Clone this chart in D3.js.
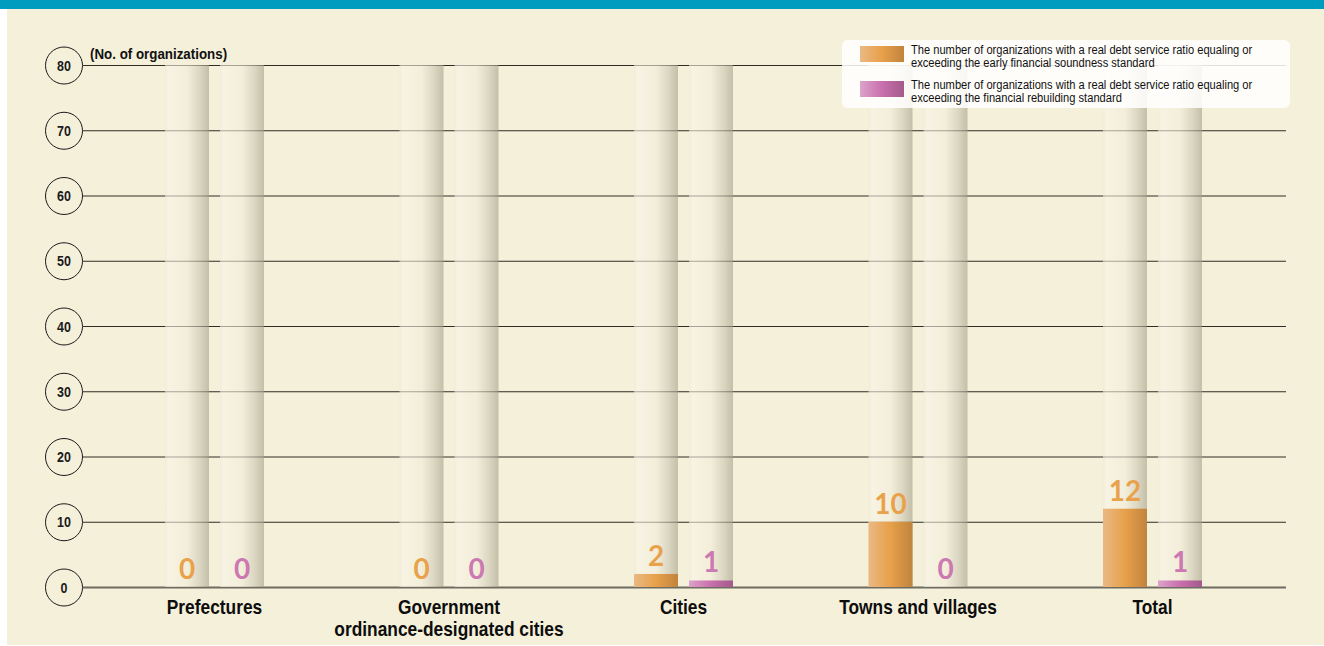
<!DOCTYPE html>
<html>
<head>
<meta charset="utf-8">
<script src="https://cdn.jsdelivr.net/npm/d3@7"></script>
<style>
  html, body { margin: 0; padding: 0; background: #ffffff; }
  svg { display: block; }
  .narrow { font-family: "Liberation Sans Narrow", "Liberation Sans", Arial, sans-serif; }
</style>
</head>
<body>
<svg id="chart" width="1324" height="646"></svg>
<script>
// Data
const categories = ["Prefectures", "Government\nordinance-designated cities", "Cities", "Towns and villages", "Total"];
const seriesKeys = ["early", "rebuilding"];
const earlySoundness = [0, 0, 2, 10, 12];
const financialRebuilding = [0, 0, 1, 0, 1];
const yTicks = [0, 10, 20, 30, 40, 50, 60, 70, 80];
const legendLabels = [
  ["The number of organizations with a real debt service ratio equaling or", "exceeding the early financial soundness standard"],
  ["The number of organizations with a real debt service ratio equaling or", "exceeding the financial rebuilding standard"]
];
const unitLabel = "(No. of organizations)";

const rows = categories.map((c, i) => ({ cat: c, early: earlySoundness[i], rebuilding: financialRebuilding[i] }));

const W = 1324, H = 646;
const SX = 0.89; // horizontal squeeze for condensed lettering
const svg = d3.select("#chart");

// Page background and top band
svg.append("rect").attr("x", 7).attr("y", 0).attr("width", W - 7).attr("height", H - 1).attr("fill", "#f5f0da");
svg.append("rect").attr("x", 0).attr("y", 0).attr("width", W).attr("height", 9).attr("fill", "#009cbf");

const defs = svg.append("defs");
function hGrad(id, stops) {
  const g = defs.append("linearGradient").attr("id", id).attr("x1", "0").attr("x2", "1").attr("y1", "0").attr("y2", "0");
  stops.forEach(([o, c]) => g.append("stop").attr("offset", o).attr("stop-color", c));
}
// Columns are translucent so the gridlines show faintly through them
hGrad("colGrad", [["0", "#efeada"], ["0.08", "#f9f5e8"], ["0.5", "#f2edda"], ["0.78", "#cbc6b2"], ["1", "#a39e87"]]);
hGrad("orangeGrad", [["0", "#eab984"], ["0.5", "#e8a04a"], ["1", "#c0843e"]]);
hGrad("pinkGrad", [["0", "#dca3c9"], ["0.5", "#c96fae"], ["1", "#a35a8a"]]);

const seriesFill = { early: "url(#orangeGrad)", rebuilding: "url(#pinkGrad)" };
const labelColor = { early: "#e9a24c", rebuilding: "#cc78b2" };

// Scales
const y = d3.scaleLinear().domain([0, 80]).range([587, 65]);
const x0 = d3.scaleBand().domain(categories).range([97.25, 1269.75]).padding(0);
const inner = 99;
const x1 = d3.scaleBand().domain(seriesKeys)
  .range([x0.bandwidth() / 2 - inner / 2, x0.bandwidth() / 2 + inner / 2])
  .paddingInner(0.2).paddingOuter(0);

// Gridlines
const grid = svg.append("g");
grid.selectAll("line").data(yTicks).join("line")
  .attr("x1", 83).attr("x2", 1286)
  .attr("y1", d => y(d) + 0.5).attr("y2", d => y(d) + 0.5)
  .attr("stroke", d => d === 0 ? "#6e6b60" : "#2e2c26")
  .attr("stroke-width", d => d === 0 ? 2 : 1);

// Background columns
const groups = svg.append("g").selectAll("g").data(rows).join("g")
  .attr("transform", d => `translate(${x0(d.cat)},0)`);

groups.selectAll("rect.col").data(d => seriesKeys.map(k => ({ key: k, value: d[k] })))
  .join("rect").attr("class", "col")
  .attr("x", d => x1(d.key)).attr("width", x1.bandwidth())
  .attr("y", y(80)).attr("height", y(0) - y(80))
  .attr("fill", "url(#colGrad)").attr("fill-opacity", 0.6);

// Bars
groups.selectAll("rect.bar").data(d => seriesKeys.map(k => ({ key: k, value: d[k] })))
  .join("rect").attr("class", "bar")
  .attr("x", d => x1(d.key)).attr("width", x1.bandwidth())
  .attr("y", d => y(d.value)).attr("height", d => y(0) - y(d.value))
  .attr("fill", d => seriesFill[d.key]);

// Value labels
groups.selectAll("text.val").data(d => seriesKeys.map(k => ({ key: k, value: d[k] })))
  .join("text").attr("class", "val")
  .attr("x", d => x1(d.key) + x1.bandwidth() / 2)
  .attr("y", d => y(d.value) - 8)
  .attr("text-anchor", "middle")
  .attr("font-family", "Lato, 'Noto Sans', sans-serif")
  .attr("font-weight", 700)
  .attr("font-size", 28)
  .attr("fill", d => labelColor[d.key])
  .text(d => d.value);

// Y axis circles
const yAxis = svg.append("g");
const tickG = yAxis.selectAll("g").data(yTicks).join("g")
  .attr("transform", d => `translate(64,${y(d) + 0.5})`);
tickG.append("circle").attr("r", 18.5).attr("fill", "#f5f0da").attr("stroke", "#1a1a1a").attr("stroke-width", 1);
tickG.append("text").attr("class", "narrow").attr("text-anchor", "middle").attr("dy", "0.36em")
  .attr("transform", `scale(${SX},1)`)
  .attr("font-size", 14).attr("font-weight", 700).attr("fill", "#1a1a1a")
  .text(d => d);

svg.append("text").attr("class", "narrow")
  .attr("transform", `translate(90,59) scale(${SX},1)`)
  .attr("font-size", 15).attr("font-weight", 700).attr("fill", "#111")
  .text(unitLabel);

// Category labels
const catLab = svg.append("g").selectAll("text").data(categories).join("text")
  .attr("class", "narrow")
  .attr("transform", d => `translate(${x0(d) + x0.bandwidth() / 2},614) scale(${SX},1)`)
  .attr("text-anchor", "middle")
  .attr("font-size", 19.5).attr("font-weight", 700).attr("fill", "#0d0d0d");
catLab.selectAll("tspan").data(d => d.split("\n")).join("tspan")
  .attr("x", 0)
  .attr("dy", (d, i) => i === 0 ? 0 : 22)
  .text(d => d);

// Legend
const lg = svg.append("g");
lg.append("rect").attr("x", 842).attr("y", 40).attr("width", 448).attr("height", 68).attr("rx", 6)
  .attr("fill", "#ffffff").attr("fill-opacity", 0.86);
seriesKeys.forEach((k, i) => {
  const top = 46 + i * 35;
  lg.append("rect").attr("x", 860).attr("y", top).attr("width", 44).attr("height", 16).attr("fill", seriesFill[k]);
  const t = lg.append("text").attr("class", "narrow")
    .attr("transform", `translate(911,${top + 8}) scale(${SX},1)`)
    .attr("font-size", 12.5).attr("fill", "#111");
  legendLabels[i].forEach((line, j) => {
    t.append("tspan").attr("x", 0).attr("dy", j === 0 ? 0 : 13).text(line);
  });
});
</script>
</body>
</html>
